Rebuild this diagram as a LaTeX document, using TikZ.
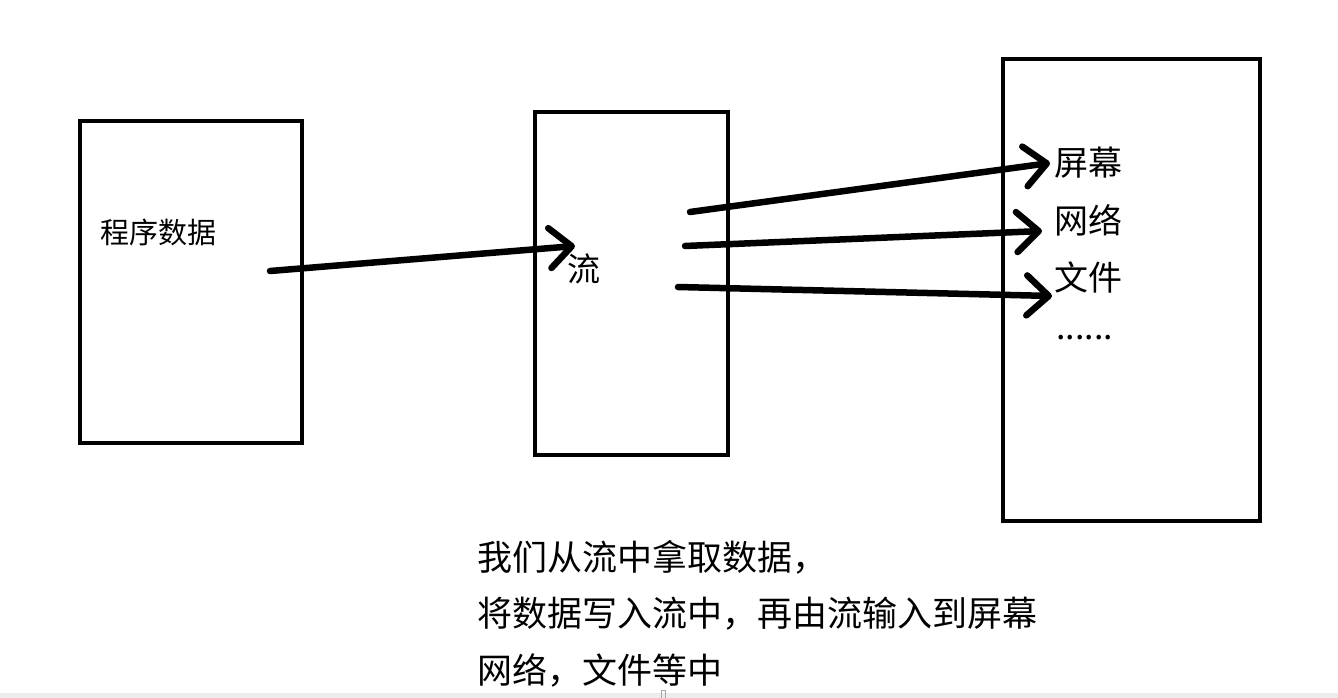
\documentclass[tikz,border=0pt]{standalone}
\usepackage{fontspec}
\setmainfont{Noto Sans CJK SC}
\usetikzlibrary{arrows.meta}
\begin{document}
\begin{tikzpicture}[x=1pt,y=-1pt,
  box/.style={draw, line width=4pt, inner sep=0pt},
  hand/.style={line width=6.5pt, line cap=round, line join=round, -{Straight Barb[length=22pt,width=40pt,round]}},
  lbl/.style={inner sep=0pt, anchor=west},
  small/.style={lbl, font=\fontsize{29}{34}\selectfont},
  mid/.style={lbl, font=\fontsize{34}{40}\selectfont},
  big/.style={lbl, font=\fontsize{35}{42}\selectfont}]
\useasboundingbox (0,0) rectangle (1338,698);
\fill[white] (0,0) rectangle (1338,698);
\fill[gray!15] (0,693) rectangle (1338,698);
\draw[gray!70, line width=0.8pt] (661,690) rectangle (665,698);
% boxes
\node[box, minimum width=222pt, minimum height=322pt] (prog) at (191,282) {};
\node[box, minimum width=193pt, minimum height=343pt] (flow) at (631.5,283.5) {};
\node[box, minimum width=257pt, minimum height=462pt] (dest) at (1131.5,290) {};
% labels
\node[small] (tprog) at (100,232) {程序数据};
\node[lbl, font=\fontsize{33}{38}\selectfont] (tflow) at (567,269) {流};
\node[mid] (tscr) at (1054,163) {屏幕};
\node[mid] (tnet) at (1054,220) {网络};
\node[mid] (tfile) at (1054,277) {文件};
\node[mid] (tdots) at (1056,338) {......};
% arrows
\coordinate (a1s) at (270,271);
\coordinate (a1e) at (575,246);
\coordinate (a2s) at (690,212);
\coordinate (a2e) at (1050,163);
\coordinate (a3s) at (685,246);
\coordinate (a3e) at (1042,231);
\coordinate (a4s) at (678,287);
\coordinate (a4e) at (1052,296);
\draw[hand] (a1s) -- (a1e);
\draw[hand] (a2s) -- (a2e);
\draw[hand] (a3s) -- (a3e);
\draw[hand] (a4s) -- (a4e);
% bottom text
\node[big] (l1) at (477,557) {我们从流中拿取数据，};
\node[big] (l2) at (477,614) {将数据写入流中，再由流输入到屏幕};
\node[big] (l3) at (477,670) {网络，文件等中};
\end{tikzpicture}
\end{document}
